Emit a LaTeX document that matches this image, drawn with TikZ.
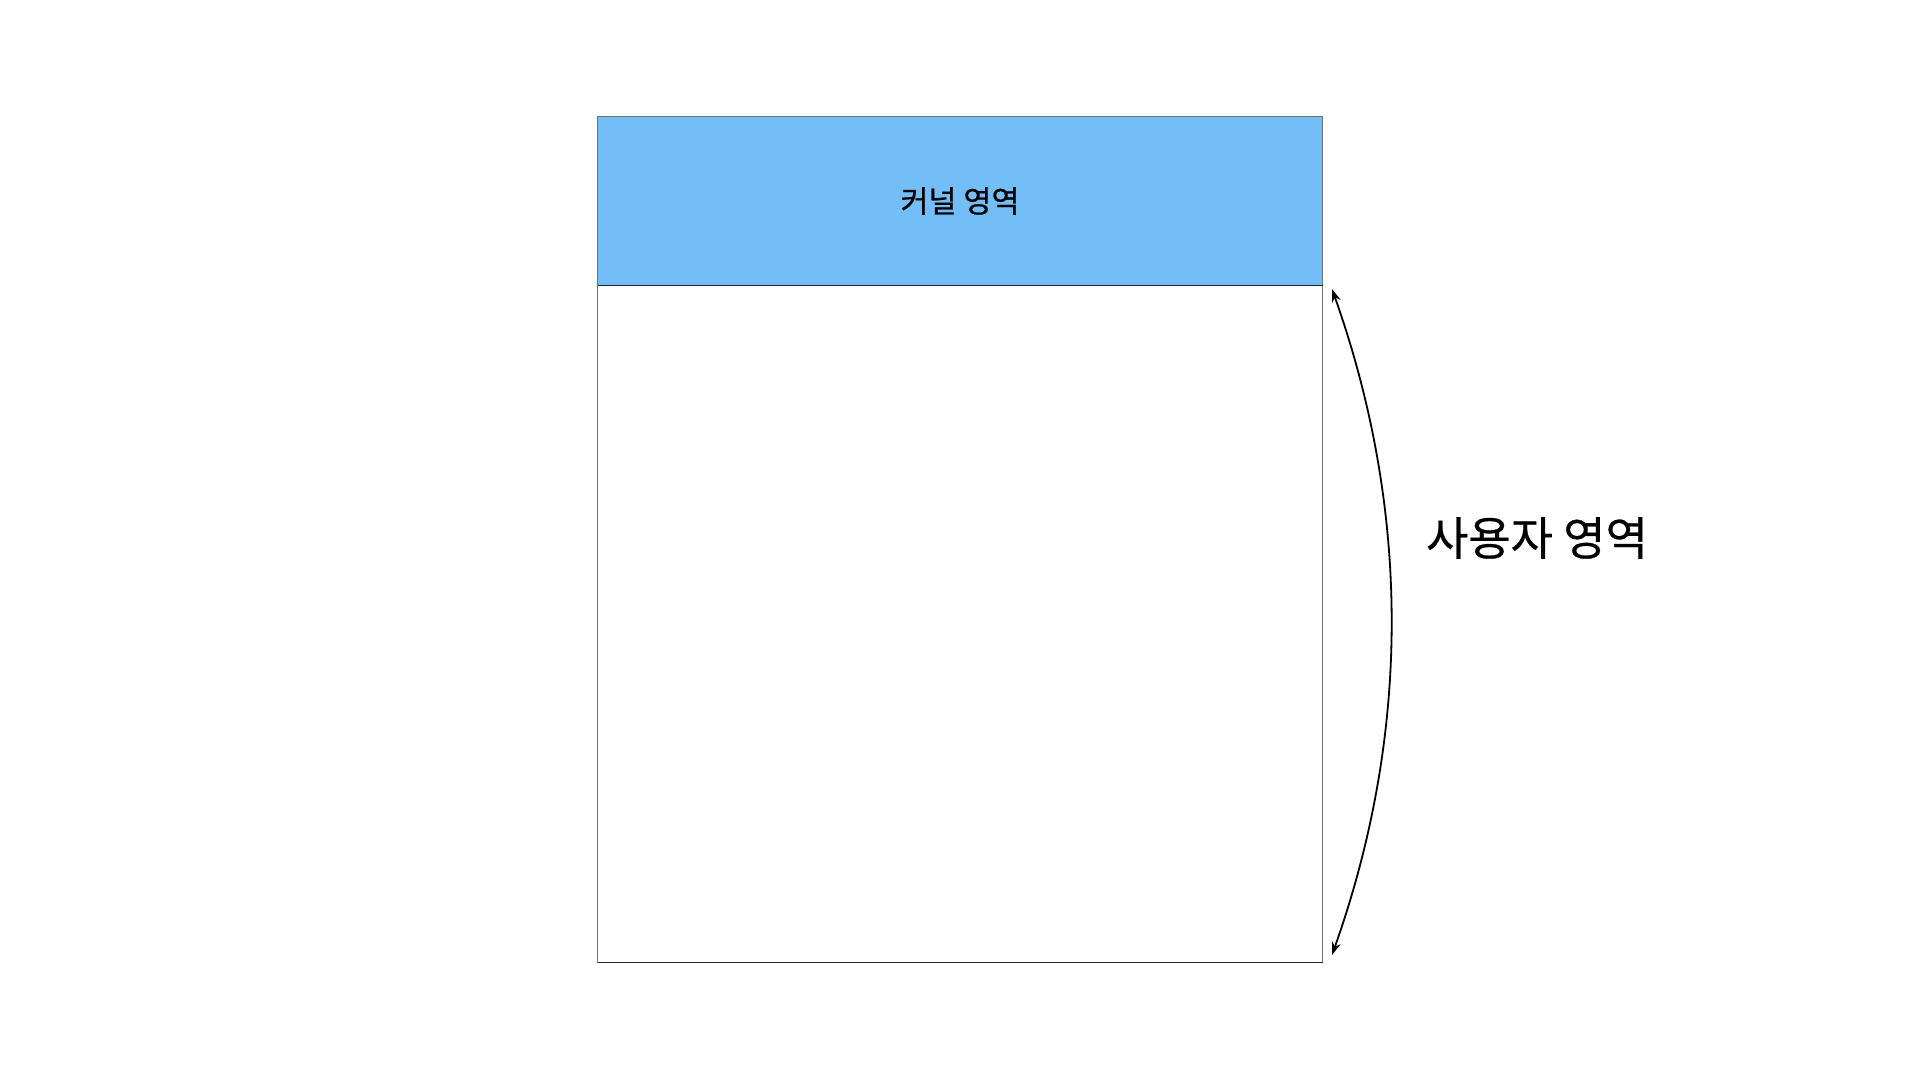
\documentclass[tikz,border=0pt]{standalone}
\usepackage{fontspec}
\newfontfamily\cjk[FakeBold=0.6]{Noto Sans CJK KR}
\usetikzlibrary{arrows.meta}
\begin{document}
\begin{tikzpicture}[x=1pt,y=-1pt,
  region/.style={draw=black!55,line width=1.2pt,minimum width=725pt,inner sep=0pt,outer sep=0pt,anchor=north west},
  edge/.style={black!85,line width=1.4pt},
  lbl/.style={font=\cjk,text=black},
  dimarrow/.style={line width=1.8pt,{Stealth[length=13pt,width=9pt]}-{Stealth[length=13pt,width=9pt]}}]
\useasboundingbox (0,0) rectangle (1920,1080);
\fill[white] (0,0) rectangle (1920,1080);
\node[region,fill={rgb,255:red,116;green,190;blue,248},minimum height=169pt] (kernel) at (597.5,116.5) {};
\node[region,fill=white,minimum height=677pt] (user) at (597.5,285.5) {};
\draw[edge] (kernel.south west) -- (kernel.south east);
\draw[edge] (user.south west) -- (user.south east);
\node[lbl,font=\cjk\fontsize{30.5}{36}\selectfont] (klabel) at (kernel.center) {커널 영역};
\node[lbl,font=\cjk\fontsize{46}{52}\selectfont] (ulabel) at (1537,538) {사용자 영역};
\coordinate (atop) at (1332,289);
\coordinate (abot) at (1332,955);
\draw[dimarrow] (atop) .. controls (1410.7,511) and (1410.7,733) .. (abot);
\end{tikzpicture}
\end{document}
